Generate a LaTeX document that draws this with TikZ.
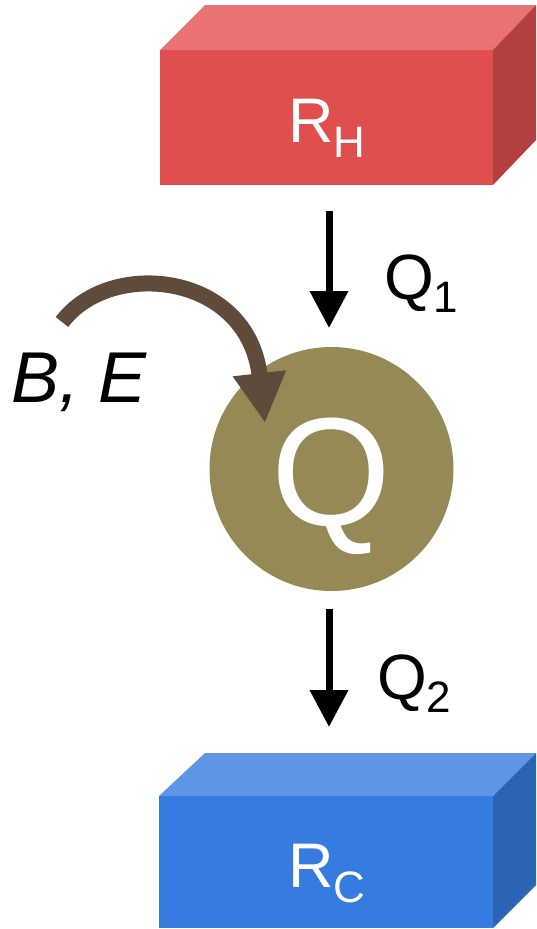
\documentclass[tikz,border=0pt]{standalone}
\usepackage{fontspec}
\setmainfont{Liberation Sans}
\usetikzlibrary{arrows.meta,calc}
\definecolor{redfront}{HTML}{E04E4E}
\definecolor{redtop}{HTML}{E87372}
\definecolor{redside}{HTML}{B33F3F}
\definecolor{bluefront}{HTML}{367BDF}
\definecolor{bluetop}{HTML}{5E95E5}
\definecolor{blueside}{HTML}{2C64B4}
\definecolor{circfill}{HTML}{958A55}
\definecolor{brownarr}{HTML}{5E4B3C}
\tikzset{
  face/.style={rectangle, inner sep=0pt, outer sep=0pt, draw=none},
  wlab/.style={text=white, inner sep=0pt, outer sep=0pt},
  blab/.style={text=black, inner sep=0pt, outer sep=0pt},
  flow/.style={line width=7pt, -{Triangle[width=37pt,length=37pt]}},
  bearrow/.style={draw=brownarr, line width=16pt, -{Triangle[width=50pt,length=50pt]}, fill=none}
}
\begin{document}
\begin{tikzpicture}[x=1pt,y=-1pt]
\useasboundingbox (0,0) rectangle (536,929);
% hot reservoir
\node[face, fill=redfront, minimum width=333pt, minimum height=135pt] (RH) at (326.5,117.5) {};
\fill[redtop] (RH.north west) -- ++(45,-45) -- ($(RH.north east)+(43,-45)$) -- (RH.north east) -- cycle;
\fill[redside] (RH.north east) -- ++(43,-45) -- ($(RH.south east)+(43,-45)$) -- (RH.south east) -- cycle;
\node[wlab, anchor=base] (RHt) at (327,142) {\fontsize{63}{63}\selectfont R\raisebox{-15pt}{\fontsize{44}{44}\selectfont H}};
% cold reservoir
\node[face, fill=bluefront, minimum width=334pt, minimum height=132pt] (RC) at (326,862) {};
\fill[bluetop] (RC.north west) -- ++(46,-43) -- ($(RC.north east)+(43,-43)$) -- (RC.north east) -- cycle;
\fill[blueside] (RC.north east) -- ++(43,-43) -- ($(RC.south east)+(43,-43)$) -- (RC.south east) -- cycle;
\node[wlab, anchor=base] (RCt) at (327,887) {\fontsize{63}{63}\selectfont R\raisebox{-15pt}{\fontsize{44}{44}\selectfont C}};
% working body
\node[circle, fill=circfill, minimum size=244pt, inner sep=0pt, outer sep=0pt] (Q) at (331.5,469) {};
\node[wlab, anchor=base] (Qt) at (331,525) {\fontsize{154}{154}\selectfont Q};
% heat flows
\draw[flow, shorten <=26pt, shorten >=19pt] ([xshift=2.5pt]RH.south) -- ([xshift=-2.5pt]Q.north);
\node[blab, anchor=base west] (Q1) at (384,299) {\fontsize{64}{64}\selectfont Q\raisebox{-13pt}{\fontsize{44}{44}\selectfont 1}};
\draw[flow, shorten <=18pt, shorten >=69pt] ([xshift=-2.5pt]Q.south) -- ([xshift=3pt]RC.north);
\node[blab, anchor=base west] (Q2) at (377,699) {\fontsize{64}{64}\selectfont Q\raisebox{-13pt}{\fontsize{44}{44}\selectfont 2}};
% B, E input
\node[blab, anchor=base west] (BE) at (11,402) {\fontsize{72}{72}\selectfont\itshape B, E};
\coordinate (BEtail) at (62,322);
\draw[bearrow] (BEtail) .. controls (110,258) and (248,272) .. ($(Q.center)+(-66.5,-46)$);
\end{tikzpicture}
\end{document}
